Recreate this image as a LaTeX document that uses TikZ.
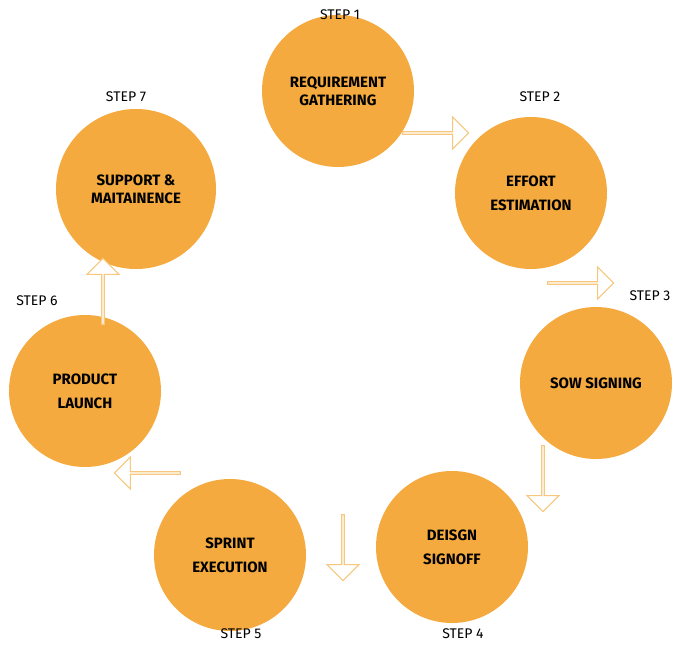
\documentclass[tikz,border=0pt]{standalone}
\usepackage{fontspec}
\setmainfont{Fira Sans}
\usetikzlibrary{shapes.arrows}
\definecolor{circ}{HTML}{F4AA3E}
\definecolor{arr}{HTML}{F6C77C}
\tikzset{
  stepcirc/.style={circle,fill=circ,minimum size=152pt,inner sep=0pt,align=center,font=\fontsize{15}{24}\selectfont\bfseries},
  steplab/.style={font=\fontsize{14}{16}\selectfont},
  blockarrow/.style={single arrow,draw=arr,line width=1.2pt,fill=white,minimum height=66pt,minimum width=32pt,single arrow head extend=7pt,inner sep=0pt}
}
\begin{document}
\begin{tikzpicture}[x=1pt,y=-1pt]
\useasboundingbox (0,0) rectangle (689,650);
\node[stepcirc] (c1) at (338,91) {REQUIREMENT\\[-6pt]GATHERING};
\node[stepcirc] (c2) at (531,193) {EFFORT\\ESTIMATION};
\node[stepcirc] (c3) at (596,383) {SOW SIGNING};
\node[stepcirc] (c4) at (452,547) {DEISGN\\SIGNOFF};
\node[stepcirc] (c5) at (230,555) {SPRINT\\EXECUTION};
\node[stepcirc] (c6) at (85,391) {PRODUCT\\LAUNCH};
\node[stepcirc,minimum size=160pt] (c7) at (136,189) {SUPPORT \&\\[-6pt]MAITAINENCE};
\node[steplab] (l1) at (340,15) {STEP 1};
\node[steplab] (l2) at (540,97) {STEP 2};
\node[steplab] (l3) at (650,296) {STEP 3};
\node[steplab] (l4) at (463,634) {STEP 4};
\node[steplab] (l5) at (241,634) {STEP 5};
\node[steplab] (l6) at (37,301) {STEP 6};
\node[steplab] (l7) at (126,97) {STEP 7};
\node[blockarrow,shape border rotate=-30] (a12) at (435,133) {};
\node[blockarrow,shape border rotate=-58] (a23) at (580,283) {};
\node[blockarrow,shape border rotate=-135] (a34) at (543,478) {};
\node[blockarrow,shape border rotate=-163] (a45) at (343,547) {};
\node[blockarrow,shape border rotate=150] (a56) at (148,473) {};
\node[blockarrow,shape border rotate=60] (a67) at (103,292) {};
\end{tikzpicture}
\end{document}
